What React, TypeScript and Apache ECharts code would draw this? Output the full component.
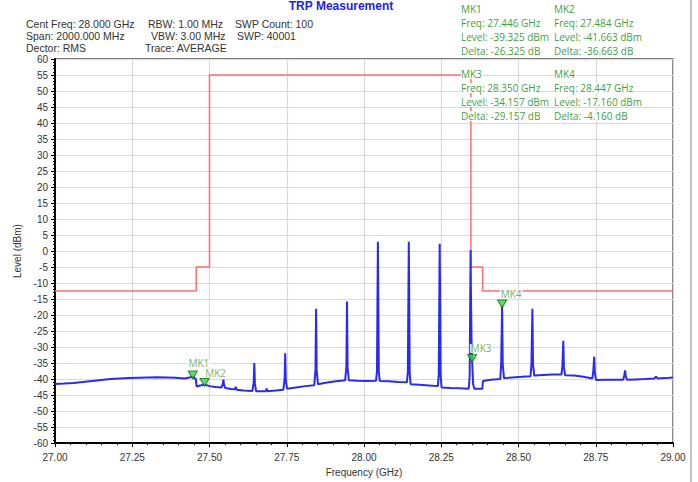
import React, { useEffect, useRef } from "react";
import * as echarts from "echarts";

// ---- data ----
const TITLE = "TRP Measurement";
const HEADER_COL1 = ["Cent Freq: 28.000 GHz", "Span: 2000.000 MHz", "Dector: RMS"];
const HEADER_COL2 = ["RBW: 1.00 MHz", "VBW: 3.00 MHz", "Trace: AVERAGE"];
const HEADER_COL3 = ["SWP Count: 100", "SWP: 40001"];

const X_MIN = 27.0;
const X_MAX = 29.0;
const X_STEP = 0.25;
const Y_MIN = -60;
const Y_MAX = 60;
const Y_STEP = 5;

// limit (mask) line: [GHz, dBm]
const LIMIT_LINE: [number, number][] = [
  [27.0, -12.5], [27.457, -12.5], [27.457, -5], [27.5, -5], [27.5, 55],
  [28.346, 55], [28.346, -5], [28.384, -5], [28.384, -12.5], [29.0, -12.5],
];

// measured spectrum trace: [GHz, dBm]
const TRACE: [number, number][] = [
  [27.000, -41.5], [27.030, -41.4], [27.060, -41.2], [27.090, -40.9], [27.120, -40.6],
  [27.150, -40.3], [27.180, -40.0], [27.210, -39.8], [27.240, -39.7], [27.270, -39.6],
  [27.300, -39.5], [27.330, -39.4], [27.360, -39.5], [27.390, -39.6], [27.420, -39.8],
  [27.446, -39.3], [27.456, -40.0], [27.458, -42.3], [27.470, -42.0], [27.484, -41.7],
  [27.500, -42.2], [27.520, -42.5],
  [27.539, -42.6], [27.543, -41.5], [27.545, -40.2], [27.547, -41.8], [27.551, -42.8],
  [27.570, -43.1], [27.582, -43.2], [27.585, -42.4], [27.588, -43.3], [27.610, -43.6],
  [27.639, -43.7], [27.643, -41.0], [27.645, -35.0], [27.647, -41.5], [27.651, -43.8],
  [27.670, -43.8], [27.682, -43.8], [27.685, -43.0], [27.688, -43.8], [27.715, -43.6],
  [27.739, -43.3], [27.743, -40.0], [27.745, -31.9], [27.747, -40.5], [27.751, -43.0],
  [27.780, -42.6], [27.810, -42.2],
  [27.839, -41.9], [27.843, -37.0], [27.845, -18.0], [27.847, -37.5], [27.851, -41.6],
  [27.880, -41.1], [27.910, -40.7],
  [27.939, -40.4], [27.943, -36.0], [27.945, -15.8], [27.947, -36.5], [27.951, -40.4],
  [27.980, -40.5], [28.010, -40.6],
  [28.039, -40.5], [28.042, -37.5], [28.044, -10.0], [28.045, 2.9], [28.046, -10.0], [28.048, -38.0], [28.051, -40.6],
  [28.080, -40.7], [28.110, -40.9],
  [28.139, -41.0], [28.142, -37.5], [28.144, -10.0], [28.145, 2.9], [28.146, -10.0], [28.148, -38.5], [28.151, -41.6],
  [28.180, -41.8], [28.210, -42.0],
  [28.239, -42.2], [28.242, -38.5], [28.244, -10.5], [28.245, 2.3], [28.246, -10.5], [28.248, -39.0], [28.251, -42.6],
  [28.280, -42.8], [28.310, -42.9],
  [28.339, -43.0], [28.342, -39.0], [28.344, -12.0], [28.345, 0.3], [28.346, -12.0], [28.348, -28.0], [28.350, -34.2],
  [28.353, -41.5], [28.357, -43.0], [28.370, -43.0], [28.383, -43.0], [28.385, -40.6], [28.410, -40.2],
  [28.441, -40.0], [28.444, -35.0], [28.447, -17.0], [28.449, -35.5], [28.453, -39.7],
  [28.480, -39.5], [28.510, -39.3],
  [28.539, -39.1], [28.542, -35.0], [28.545, -18.0], [28.547, -35.5], [28.551, -38.9],
  [28.580, -38.7], [28.610, -38.6],
  [28.639, -38.6], [28.642, -36.0], [28.645, -28.0], [28.647, -36.5], [28.651, -38.8],
  [28.680, -38.9], [28.710, -39.3],
  [28.739, -39.8], [28.742, -37.5], [28.745, -33.0], [28.747, -38.0], [28.751, -40.3],
  [28.780, -40.2], [28.810, -40.2],
  [28.839, -40.2], [28.843, -38.5], [28.845, -37.3], [28.847, -39.0], [28.851, -40.2],
  [28.880, -40.1], [28.910, -40.0], [28.940, -39.8], [28.945, -39.2], [28.950, -39.8],
  [28.975, -39.7], [29.000, -39.5],
];

const MARKER_NAMES = ["MK1", "MK2", "MK3", "MK4"];
const MARKER_FREQ = [27.446, 27.484, 28.35, 28.447];
const MARKER_LEVEL = [-39.325, -41.663, -34.157, -17.16];
const MARKER_DELTA = [-26.325, -36.663, -29.157, -4.16];

// ---- styling ----
const AX_FONT = "'Liberation Sans', Arial, sans-serif";
const MK_FONT = "'Open Sans', 'Liberation Sans', sans-serif";
const GREEN = "#3f9f3f";
const TEXT_GRAY = "#333333";
const MARKER_LABEL_OFFSET = [[6, -2], [11, 1], [9, 0], [9, 0]];

export default function App() {
  const ref = useRef<HTMLDivElement>(null);

  useEffect(() => {
    document.body.style.margin = "0";
    if (!ref.current) return;
    const chart = echarts.init(ref.current, undefined, { renderer: "svg" });

    const graphics: any[] = [];
    graphics.push({
      type: "text", z: 100, x: 341, y: 6,
      style: { text: TITLE, font: `bold 12px ${AX_FONT}`, fill: "#2222ee", align: "center", verticalAlign: "middle" },
    });
    const headerCols = [
      { lines: HEADER_COL1, xs: [26, 26, 26] },
      { lines: HEADER_COL2, xs: [148, 151, 145] },
      { lines: HEADER_COL3, xs: [235, 237] },
    ];
    const headerYs = [24, 36, 48];
    headerCols.forEach((col) => {
      col.lines.forEach((t, i) => {
        graphics.push({
          type: "text", z: 100, x: col.xs[i], y: headerYs[i],
          style: { text: t, font: `10.5px ${AX_FONT}`, fill: TEXT_GRAY, verticalAlign: "middle" },
        });
      });
    });
    const blockPos = [
      { x: 461, ys: [9, 23, 37, 51] },
      { x: 554, ys: [9, 23, 37, 51] },
      { x: 461, ys: [74, 88, 102, 116] },
      { x: 554, ys: [74, 88, 102, 116] },
    ];
    MARKER_NAMES.forEach((name, i) => {
      const lines = [
        name,
        `Freq: ${MARKER_FREQ[i].toFixed(3)} GHz`,
        `Level: ${MARKER_LEVEL[i].toFixed(3)} dBm`,
        `Delta: ${MARKER_DELTA[i].toFixed(3)} dB`,
      ];
      lines.forEach((t, j) => {
        graphics.push({
          type: "text", z: 100, x: blockPos[i].x, y: blockPos[i].ys[j],
          style: {
            text: t, font: `10px ${MK_FONT}`, fill: GREEN, verticalAlign: "middle",
            backgroundColor: "#ffffff", padding: [0, 1, 0, 0],
          },
        });
      });
    });
    graphics.push({
      type: "line", z: 100,
      shape: { x1: 691, y1: 0, x2: 691, y2: 482 },
      style: { stroke: "#8a8a8a", lineWidth: 1 },
    });

    chart.setOption({
      animation: false,
      backgroundColor: "#ffffff",
      grid: {
        left: 55, right: 25, top: 59, bottom: 35, show: true,
        borderColor: "#555555", borderWidth: 1.5, backgroundColor: "transparent",
      },
      xAxis: {
        type: "value", min: X_MIN, max: X_MAX, interval: X_STEP,
        name: "Frequency (GHz)", nameLocation: "middle", nameGap: 21,
        nameTextStyle: { fontFamily: AX_FONT, fontSize: 10, color: TEXT_GRAY },
        axisLine: { show: true, onZero: false, lineStyle: { color: "#000", width: 2 } },
        axisTick: { show: true, length: 4, lineStyle: { color: "#000" } },
        minorTick: { show: true, splitNumber: 5, length: 2, lineStyle: { color: "#000" } },
        axisLabel: {
          fontFamily: AX_FONT, fontSize: 10, color: TEXT_GRAY, margin: 9,
          formatter: (v: number) => v.toFixed(2),
        },
        splitLine: { show: true, lineStyle: { color: "#d9d9d9", width: 1.2 } },
      },
      yAxis: {
        type: "value", min: Y_MIN, max: Y_MAX, interval: Y_STEP,
        name: "Level (dBm)", nameLocation: "middle", nameGap: 32, nameRotate: 90,
        nameTextStyle: { fontFamily: AX_FONT, fontSize: 10, color: TEXT_GRAY },
        axisLine: { show: true, onZero: false, lineStyle: { color: "#000", width: 2 } },
        axisTick: { show: true, length: 4, lineStyle: { color: "#000" } },
        minorTick: { show: true, splitNumber: 5, length: 2, lineStyle: { color: "#000" } },
        axisLabel: { fontFamily: AX_FONT, fontSize: 10, color: TEXT_GRAY, margin: 7 },
        splitLine: { show: true, lineStyle: { color: "#d9d9d9", width: 1.2 } },
      },
      series: [
        {
          type: "line", data: LIMIT_LINE, showSymbol: false, z: 2,
          lineStyle: { color: "#ff6e6e", width: 1.5 }, itemStyle: { color: "#ff6e6e" },
        },
        {
          type: "line", data: TRACE, showSymbol: false, z: 3,
          lineStyle: { color: "#2a2af0", width: 2 }, itemStyle: { color: "#2a2af0" },
        },
        {
          type: "scatter", z: 5,
          data: MARKER_NAMES.map((n, i) => ({
            value: [MARKER_FREQ[i], MARKER_LEVEL[i]], name: n,
            label: { offset: MARKER_LABEL_OFFSET[i] },
          })),
          symbol: "triangle", symbolRotate: 180, symbolSize: [9, 8], symbolOffset: [0, -2],
          itemStyle: { color: "#33dd33", borderColor: "#116611", borderWidth: 1 },
          label: {
            show: true, position: "top", distance: 1,
            formatter: (p: any) => p.name,
            fontFamily: MK_FONT, fontSize: 10, lineHeight: 9, color: GREEN,
            backgroundColor: "#ffffff", padding: [0, 1],
          },
        },
      ],
      graphic: graphics,
    });

    return () => chart.dispose();
  }, []);

  return <div ref={ref} style={{ width: 698, height: 482 }} />;
}
